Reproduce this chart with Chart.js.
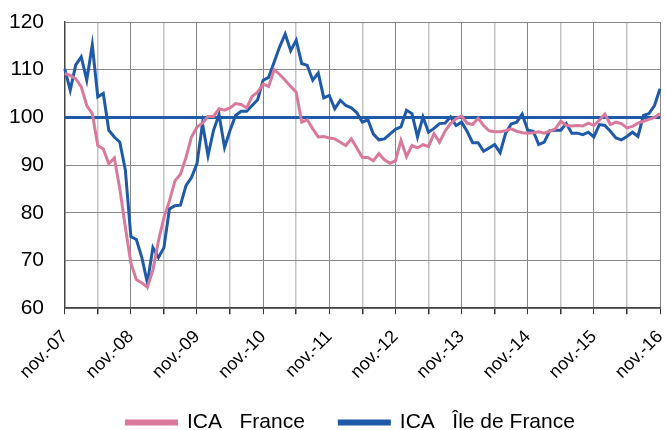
<!DOCTYPE html>
<html>
<head>
<meta charset="utf-8">
<script src="https://cdn.jsdelivr.net/npm/chart.js@4"></script>
<style>
  html, body { margin: 0; padding: 0; background: #fff; }
  #wrap { width: 665px; height: 430px; }
</style>
</head>
<body>
<div id="wrap"><canvas id="ica"></canvas></div>
<script>
// monthly labels, nov-07 .. nov-16
const monthNames = ["nov.","déc.","janv.","févr.","mars","avr.","mai","juin","juil.","août","sept.","oct."];
const startYear = 7;
const nbMonths = 109;

// ICA France
const icaFrance = [
    109.2,108.8,108.1,106.4,102.5,100.8,94.1,93.4,90.3,91.5,85,77,
    69.5,66,65.3,64.4,68,74.1,79,82.5,86.7,88.1,91.6,95.9,
    98,98.8,100.2,100.2,101.8,101.5,102,102.9,102.7,102,104.4,105.3,
    107,106.5,110,109,107.8,106.5,105.3,99,99.5,97.6,95.9,96,
    95.7,95.5,94.8,94.1,95.5,93.6,91.6,91.6,90.9,92.4,91.1,90.4,
    90.9,95.2,91.8,94.1,93.6,94.3,93.9,96.6,94.8,97.1,98.7,99.7,
    100.3,98.8,98.5,99.8,98.3,97.2,97,97,97.2,97.6,97.1,96.8,
    96.7,96.8,97,96.7,97.1,97.6,99.2,98.3,98.2,98.3,98.2,98.8,
    98.3,99.4,100.7,98.5,99,98.7,97.8,98.1,98.8,99.2,99.6,100,
    100.8
];

// ICA Ile de France
const icaIdf = [
    110.2,105.7,111,112.7,107.8,115.2,104.3,105,97.3,95.9,94.8,89,
    75,74.4,70.6,65.3,72.7,70.6,72.7,80.8,81.5,81.6,85.7,87.4,
    90.3,98.7,92,97.3,100.6,93.7,97.3,100.4,101.3,101.3,102.5,103.7,
    107.8,108.4,111.6,114.8,117.5,114,116.2,111.3,110.9,107.8,109.3,104.1,
    104.6,101.8,103.6,102.5,102,101,99,99.5,96.5,95.3,95.5,96.5,
    97.5,98,101.5,100.8,95.9,100.1,96.9,97.7,98.7,98.8,100.1,98.3,
    99,97.1,94.7,94.7,92.9,93.6,94.3,92.6,96.7,98.6,99,100.7,
    97.3,97.1,94.3,94.8,97.2,97.3,97.3,98.7,96.7,96.7,96.4,96.9,
    95.9,98.5,98.3,97.1,95.7,95.3,96,96.9,96,100.4,100.8,102.5,
    106
];

const baseValue = 100;
const yTicks = [60, 70, 80, 90, 100, 110, 120];

const pink = "#d97a9c";
const blue = "#1f5aa8";

function buildLabels(){
    let labels = [];
    for(let i = 0; i < nbMonths; ++i){
        const y = startYear + Math.floor((i + 10) / 12);
        labels.push(monthNames[i % 12] + "-" + String(y).padStart(2, "0"));
    }
    return labels;
}

const labels = buildLabels();
const baseLine = labels.map(() => baseValue);

// vertical grid: a line every 6 months, darker for the years
function gridColor(ctx){
    if(ctx.index % 12 === 0) return "#858585";
    if(ctx.index % 6 === 0) return "#c4c4c4";
    return "rgba(0,0,0,0)";
}

const font = "'Liberation Sans', Arial, sans-serif";

new Chart(document.getElementById("ica"), {
    type: "line",
    data: {
        labels: labels,
        datasets: [
            // trailing spaces only tune the spacing of the legend
            {label: "ICA   France   ", data: icaFrance, borderColor: pink, backgroundColor: pink, borderWidth: 3},
            {label: "ICA   Île de France    ", data: icaIdf, borderColor: blue, backgroundColor: blue, borderWidth: 3},
            {label: "base", data: baseLine, borderColor: blue, backgroundColor: blue, borderWidth: 3}
        ]
    },
    options: {
        responsive: true,
        maintainAspectRatio: false,
        animation: false,
        layout: {padding: {top: 0, right: 0, left: 0, bottom: -13}},
        elements: {
            point: {radius: 0},
            line: {tension: 0}
        },
        plugins: {
            tooltip: {enabled: false},
            legend: {
                position: "bottom",
                fullSize: false,
                labels: {
                    filter: (item) => item.datasetIndex < 2,
                    boxWidth: 50,
                    boxHeight: 3,
                    padding: 17,
                    color: "#000",
                    font: {family: font, size: 21}
                }
            }
        },
        scales: {
            x: {
                offset: false,
                // the rotated last label asks for too much room on the right
                afterFit: (scale) => { scale.paddingRight = 5; },
                grid: {
                    color: gridColor,
                    tickColor: (ctx) => ctx.index % 6 === 0 ? "#333" : "rgba(0,0,0,0)",
                    tickLength: 6,
                    lineWidth: (ctx) => ctx.index % 12 === 0 ? 1 : 1.5
                },
                border: {color: "#444", width: 1.5},
                ticks: {
                    autoSkip: false,
                    maxRotation: 45,
                    minRotation: 45,
                    color: "#000",
                    padding: 12,
                    font: {family: font, size: 18},
                    callback: function(value, index){
                        return index % 12 === 0 ? labels[index] : "";
                    }
                }
            },
            y: {
                min: yTicks[0],
                max: yTicks[yTicks.length - 1],
                afterFit: (scale) => { scale.paddingTop = 22; },
                grid: {color: "#8a8a8a", drawTicks: false},
                border: {color: "#444", width: 1.5},
                ticks: {
                    stepSize: 10,
                    padding: 9,
                    color: "#000",
                    font: {family: font, size: 21},
                    callback: (value) => value + "  "
                }
            }
        }
    }
});
</script>
</body>
</html>
